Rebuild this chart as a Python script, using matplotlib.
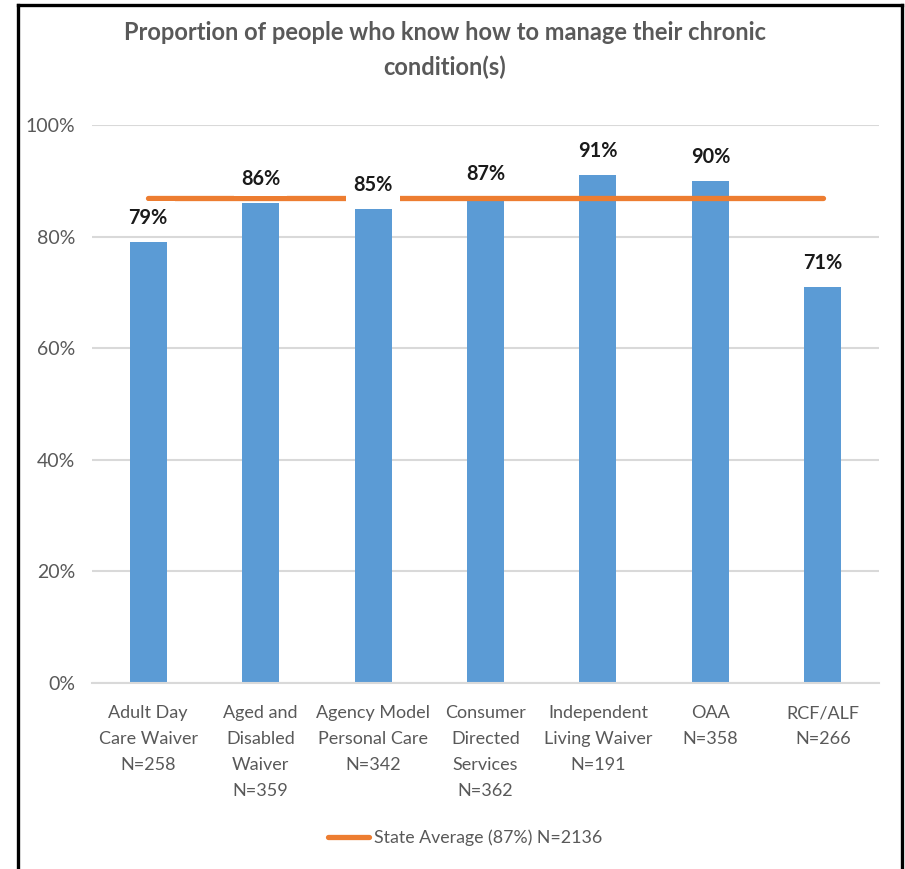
import matplotlib.pyplot as plt
from matplotlib.lines import Line2D

plt.rcParams["font.family"] = ["Lato", "DejaVu Sans"]

categories = [
    "Adult Day\nCare Waiver\nN=258",
    "Aged and\nDisabled\nWaiver\nN=359",
    "Agency Model\nPersonal Care\nN=342",
    "Consumer\nDirected\nServices\nN=362",
    "Independent\nLiving Waiver\nN=191",
    "OAA\nN=358",
    "RCF/ALF\nN=266",
]
pct = [79, 86, 85, 87, 91, 90, 71]
state_avg = 87
state_label = "State Average (87%) N=2136"
yticks = [0, 20, 40, 60, 80, 100]

W, H = 905, 869
fig = plt.figure(figsize=(W / 100, H / 100), dpi=100)
ax = fig.add_axes([92 / W, 1 - 683 / H, (879 - 92) / W, (683 - 125) / H])

x = range(len(categories))
ax.bar(x, pct, width=0.33, color="#5b9bd5", zorder=2)
avg_line, = ax.plot([0, len(categories) - 1], [state_avg, state_avg], color="#ed7d31",
                    lw=3.8, solid_capstyle="round", zorder=3)

# value labels sit on white boxes, so they cut through the average line
for i, v in enumerate(pct):
    ax.annotate(f"{v}%", (i, v), xytext=(0, 10), textcoords="offset points",
                ha="center", va="bottom", fontsize=14.3, fontweight="bold",
                color="#1a1a1a", zorder=4,
                bbox=dict(boxstyle="square,pad=0.35", fc="white", ec="none"))

ax.set_xlim(-0.5, len(categories) - 0.5)
ax.set_ylim(0, 100)
ax.set_yticks(yticks)
ax.set_yticklabels([f"{t}%" for t in yticks])
ax.set_xticks(list(x))
ax.set_xticklabels(categories, linespacing=1.77)
ax.tick_params(axis="y", length=0, pad=12, labelsize=14, labelcolor="#595959")
ax.tick_params(axis="x", length=0, pad=16, labelsize=13, labelcolor="#595959")
ax.grid(axis="y", color="#d9d9d9", lw=1.5, zorder=0)
for side in ["top", "right", "left"]:
    ax.spines[side].set_visible(False)
ax.spines["bottom"].set_color("#d9d9d9")
ax.spines["bottom"].set_linewidth(1.5)

fig.text(445 / W, 1 - 50 / H,
         "Proportion of people who know how to manage their chronic\ncondition(s)",
         ha="center", va="center", fontsize=17, fontweight="bold", color="#595959",
         linespacing=1.55)

fig.legend([avg_line], [state_label], loc="center", bbox_to_anchor=(465 / W, 1 - 838 / H),
           frameon=False, fontsize=12.8, labelcolor="#595959", handlelength=2.3,
           handletextpad=0.3)

# black frame on left, top and right
frame_kw = dict(color="black", lw=2.4, transform=fig.transFigure)
fig.add_artist(Line2D([17.5 / W, 17.5 / W], [0, 1 - 5 / H], **frame_kw))
fig.add_artist(Line2D([17.5 / W, 901.5 / W], [1 - 5 / H, 1 - 5 / H],
                      solid_capstyle="projecting", **frame_kw))
fig.add_artist(Line2D([901.5 / W, 901.5 / W], [0, 1 - 5 / H], **frame_kw))

fig.savefig("out.png", dpi=100)
